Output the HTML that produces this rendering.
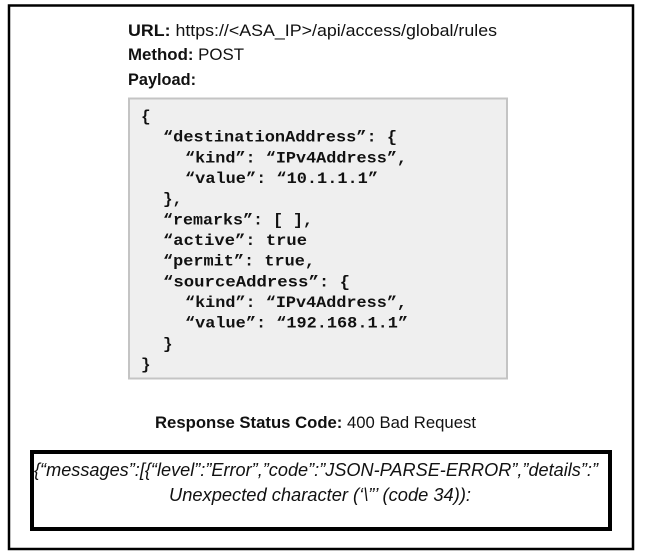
<!DOCTYPE html>
<html><head><meta charset="utf-8"><style>
html,body{margin:0;padding:0;background:#fff;width:645px;height:559px;overflow:hidden}
svg{display:block}
.s{font-family:"Liberation Sans",sans-serif;font-size:17px;fill:#111}
.b{font-weight:bold}
.m{font-family:"Liberation Mono",monospace;font-weight:bold;font-size:16px;fill:#111}
.i{font-family:"Liberation Sans",sans-serif;font-style:italic;font-size:18px;fill:#111}
</style></head><body>
<svg width="645" height="559" viewBox="0 0 645 559" xmlns="http://www.w3.org/2000/svg">
<rect x="9" y="5.5" width="624" height="543.5" fill="#fff" stroke="#000" stroke-width="2.5"/>
<text class="s" y="36" x="128" textLength="369" lengthAdjust="spacingAndGlyphs"><tspan class="b">URL:</tspan> https://&lt;ASA_IP&gt;/api/access/global/rules</text>
<text class="s" y="60" x="128" textLength="116" lengthAdjust="spacingAndGlyphs"><tspan class="b">Method:</tspan> POST</text>
<text class="s b" y="85" x="128" textLength="68" lengthAdjust="spacingAndGlyphs">Payload:</text>
<rect x="129" y="98.5" width="378" height="280" fill="#efefef" stroke="#c4c4c4" stroke-width="2"/>
<g class="m">
<text x="141" y="121">{</text>
<text x="163" y="141.7" textLength="234" lengthAdjust="spacingAndGlyphs">“destinationAddress”: {</text>
<text x="185" y="162.3" textLength="222" lengthAdjust="spacingAndGlyphs">“kind”: “IPv4Address”,</text>
<text x="185" y="183" textLength="193" lengthAdjust="spacingAndGlyphs">“value”: “10.1.1.1”</text>
<text x="163" y="203.7">},</text>
<text x="163" y="224.3" textLength="150" lengthAdjust="spacingAndGlyphs">“remarks”: [ ],</text>
<text x="163" y="245" textLength="144" lengthAdjust="spacingAndGlyphs">“active”: true</text>
<text x="163" y="265.7" textLength="152" lengthAdjust="spacingAndGlyphs">“permit”: true,</text>
<text x="163" y="286.3" textLength="187" lengthAdjust="spacingAndGlyphs">“sourceAddress”: {</text>
<text x="185" y="307" textLength="222" lengthAdjust="spacingAndGlyphs">“kind”: “IPv4Address”,</text>
<text x="185" y="327.7" textLength="223" lengthAdjust="spacingAndGlyphs">“value”: “192.168.1.1”</text>
<text x="163" y="348.3">}</text>
<text x="141" y="369">}</text>
</g>
<text class="s" y="428" x="155" textLength="321" lengthAdjust="spacingAndGlyphs"><tspan class="b">Response Status Code:</tspan> 400 Bad Request</text>
<rect x="32" y="452" width="578" height="77" fill="#fff" stroke="#000" stroke-width="4"/>
<text class="i" x="34" y="476" textLength="564" lengthAdjust="spacingAndGlyphs">{“messages”:[{“level”:”Error”,”code”:”JSON-PARSE-ERROR”,”details”:”</text>
<text class="i" x="169" y="501" textLength="302" lengthAdjust="spacingAndGlyphs">Unexpected character (‘\”’ (code 34)):</text>
</svg>
</body></html>
